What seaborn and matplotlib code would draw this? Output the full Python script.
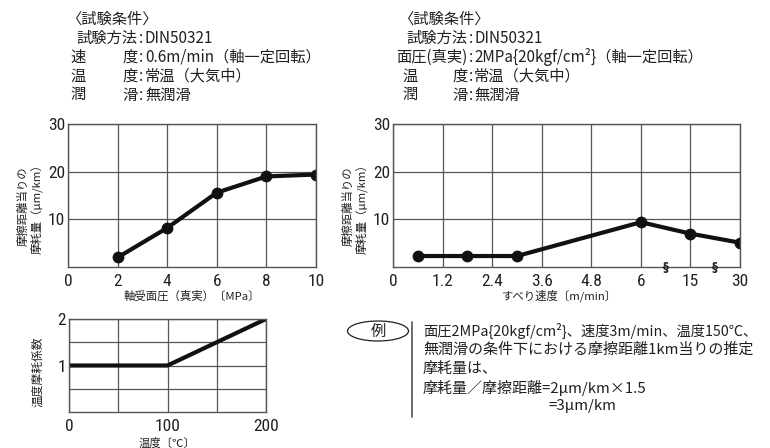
import numpy as np
import pandas as pd
import matplotlib
matplotlib.use("Agg")
import matplotlib.pyplot as plt
import seaborn as sns
from matplotlib.patches import Ellipse
from matplotlib.lines import Line2D
from matplotlib import font_manager

# ---------------- data ----------------
pressure = [2, 4, 6, 8, 10]                       # MPa
wear_by_pressure = [2.0, 8.2, 15.6, 19.0, 19.4]   # um/km

speed_ticks = [0, 1.2, 2.4, 3.6, 4.8, 6, 15, 30]  # m/min (broken scale)
speed_tick_labels = ["0", "1.2", "2.4", "3.6", "4.8", "6", "15", "30"]
speed = [0.6, 1.8, 3.0, 6, 15, 30]
wear_by_speed = [2.3, 2.3, 2.3, 9.4, 7.0, 5.1]

temperature = [0, 100, 200]                        # deg C
temp_coeff = [1.0, 1.0, 2.0]

header_left = [("〈試験条件〉", None),
               ("試験方法", "DIN50321"),
               ("速度", "0.6m/min（軸一定回転）"),
               ("温度", "常温（大気中）"),
               ("潤滑", "無潤滑")]
header_right = [("〈試験条件〉", None),
                ("試験方法", "DIN50321"),
                ("面圧(真実)", "2MPa{20kgf/cm²}（軸一定回転）"),
                ("温度", "常温（大気中）"),
                ("潤滑", "無潤滑")]
example_lines = ["面圧2MPa{20kgf/cm²}、速度3m/min、温度150℃、",
                 "無潤滑の条件下における摩擦距離1km当りの推定",
                 "摩耗量は、",
                 "摩耗量／摩擦距離=2μm/km×1.5"]
example_result = "=3μm/km"

# ---------------- style ----------------
sns.set_theme(style="white")
plt.rcParams['font.family'] = ['Noto Sans CJK JP', 'DejaVu Sans']
TXT = '#231f20'
GRID = '#555555'


def pick_condensed():
    names = {f.name for f in font_manager.fontManager.ttflist}
    for cand in ['Liberation Sans Narrow', 'DejaVu Sans Condensed', 'Roboto Condensed',
                 'Open Sans Condensed', 'Noto Sans Condensed']:
        if cand in names:
            return font_manager.FontProperties(family=cand)
    for f in font_manager.fontManager.ttflist:
        st = str(f.stretch).lower()
        if ('condensed' in st or 'narrow' in f.name.lower()) and f.style == 'normal' \
                and f.weight in (400, 'normal', 'regular') and 'Mono' not in f.name \
                and 'Serif' not in f.name:
            return font_manager.FontProperties(fname=f.fname)
    return font_manager.FontProperties(family='Liberation Sans')


TICKFP = pick_condensed()

W, H = 770, 448
fig = plt.figure(figsize=(W / 100, H / 100), dpi=100)


def fx(x):
    return x / W


def fy(y):
    return 1 - y / H


def add_ax(l, t, r, b):
    return fig.add_axes([fx(l), fy(b), fx(r) - fx(l), (b - t) / H])


def style_ax(ax):
    for s in ax.spines.values():
        s.set_visible(True)
        s.set_color(GRID)
        s.set_linewidth(1.0)
    ax.grid(True, color=GRID, linewidth=0.9)
    ax.tick_params(axis='both', length=0, colors=TXT)
    for lab in ax.get_xticklabels() + ax.get_yticklabels():
        lab.set_fontproperties(TICKFP)
        lab.set_fontsize(12.5)
    ax.set_xlabel("")
    ax.set_ylabel("")


# ---------------- chart 1 ----------------
ax1 = add_ax(68, 124, 316, 267)
df1 = pd.DataFrame({"p": pressure, "w": wear_by_pressure})
sns.lineplot(data=df1, x="p", y="w", ax=ax1, color='#111111', linewidth=3,
             marker='o', markersize=8.5, markeredgewidth=0)
ax1.set_xlim(0, 10)
ax1.set_ylim(0, 30)
ax1.set_xticks([0, 2, 4, 6, 8, 10])
ax1.set_yticks([10, 20, 30])
ax1.tick_params(axis='x', pad=5)
ax1.tick_params(axis='y', pad=2)
style_ax(ax1)

# ---------------- chart 2 ----------------
ax2 = add_ax(393, 124, 740, 267)
pos = np.arange(len(speed_ticks))
df2 = pd.DataFrame({"s": np.interp(speed, speed_ticks, pos), "w": wear_by_speed})
sns.lineplot(data=df2, x="s", y="w", ax=ax2, color='#111111', linewidth=3,
             marker='o', markersize=8.5, markeredgewidth=0)
ax2.set_xlim(0, len(speed_ticks) - 1)
ax2.set_ylim(0, 30)
ax2.set_xticks(pos)
ax2.set_xticklabels(speed_tick_labels)
ax2.set_yticks([10, 20, 30])
ax2.tick_params(axis='x', pad=5)
ax2.tick_params(axis='y', pad=2)
style_ax(ax2)
trans = matplotlib.transforms.blended_transform_factory(ax2.transData, ax2.transAxes)
for xb in [5.5, 6.5]:
    ax2.text(xb, 0, "§", transform=trans, ha='center', va='center', fontsize=8.5,
             fontweight='bold', color='#222222', family=['DejaVu Sans'], clip_on=False)

# ---------------- chart 3 ----------------
ax3 = add_ax(69, 319, 266, 412)
df3 = pd.DataFrame({"t": temperature, "c": temp_coeff})
sns.lineplot(data=df3, x="t", y="c", ax=ax3, color='#111111', linewidth=3)
ax3.set_xlim(0, 200)
ax3.set_ylim(0, 2)
ax3.set_xticks([0, 50, 100, 150, 200])
ax3.set_yticks([0.5, 1, 1.5, 2])
ax3.set_xticklabels(["0", "", "100", "", "200"])
ax3.set_yticklabels(["", "1", "", "2"])
ax3.tick_params(axis='x', pad=5)
ax3.tick_params(axis='y', pad=2)
style_ax(ax3)

# ---------------- axis labels ----------------
LBL = 8.2
fig.text(fx(30), fy(206), "摩擦距離当りの\n摩耗量（μm/km）", rotation=90, ha='center', va='center',
         fontsize=8.2, color=TXT, linespacing=1.15)
fig.text(fx(192), fy(296), "軸受面圧（真実）〔MPa〕", ha='center', va='center', fontsize=LBL, color=TXT)
fig.text(fx(355), fy(206), "摩擦距離当りの\n摩耗量（μm/km）", rotation=90, ha='center', va='center',
         fontsize=8.2, color=TXT, linespacing=1.15)
fig.text(fx(560), fy(296), "すべり速度〔m/min〕", ha='center', va='center', fontsize=LBL, color=TXT)
fig.text(fx(38), fy(372), "温度摩耗係数", rotation=90, ha='center', va='center', fontsize=8.5, color=TXT)
fig.text(fx(167), fy(443), "温度〔℃〕", ha='center', va='center', fontsize=LBL, color=TXT)

# ---------------- headers ----------------
HF = 11
row_y = [19, 38.5, 57.5, 76.5, 95]


def draw_header(rows, x0, xcolon, xval):
    for (label, value), y in zip(rows, row_y):
        if value is None:
            fig.text(fx(x0 - 4), fy(y), label, ha='left', va='center', fontsize=HF, color=TXT)
            continue
        if len(label) == 2:
            fig.text(fx(x0), fy(y), label[0], ha='left', va='center', fontsize=HF, color=TXT)
            fig.text(fx(xcolon - 3), fy(y), label[1], ha='right', va='center', fontsize=HF, color=TXT)
        else:
            fig.text(fx(xcolon - 3), fy(y), label, ha='right', va='center', fontsize=HF, color=TXT)
        fig.text(fx(xcolon), fy(y), ":", ha='center', va='center', fontsize=HF, color=TXT)
        fig.text(fx(xval), fy(y), value, ha='left', va='center', fontsize=HF, color=TXT)


draw_header(header_left, 70, 140.5, 145)
draw_header(header_right, 402, 470.5, 474)

# ---------------- example box ----------------
EF = 10.8
fig.add_artist(Ellipse((fx(378), fy(331)), 61 / W, 20 / H, transform=fig.transFigure,
                       facecolor='none', edgecolor=TXT, linewidth=0.9))
fig.text(fx(378), fy(331), "例", ha='center', va='center', fontsize=HF, color=TXT)
fig.add_artist(Line2D([fx(412), fx(412)], [fy(322), fy(417)], transform=fig.transFigure,
                      color='#555555', linewidth=1.2))
ex_y = [331, 349.5, 368.5, 387.5]
for i, (s, y) in enumerate(zip(example_lines, ex_y)):
    fig.text(fx(423), fy(y), s, ha='left', va='center', fontsize=(10.3 if i == 0 else EF), color=TXT)
fig.text(fx(548), fy(406), example_result, ha='left', va='center', fontsize=EF, color=TXT)

fig.savefig("out.png", dpi=100)
